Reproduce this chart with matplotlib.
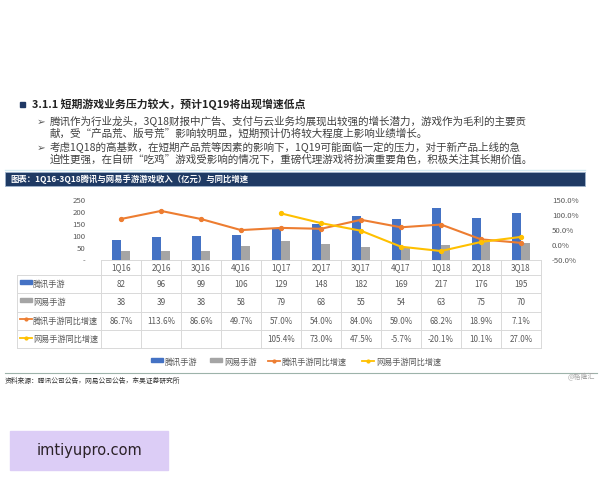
import matplotlib
matplotlib.use("Agg")
import matplotlib.pyplot as plt
from matplotlib.patches import Rectangle

plt.rcParams['font.family'] = ['Noto Sans CJK SC', 'DejaVu Sans']

quarters = ["1Q16", "2Q16", "3Q16", "4Q16", "1Q17", "2Q17", "3Q17", "4Q17", "1Q18", "2Q18", "3Q18"]
tencent = [82, 96, 99, 106, 129, 148, 182, 169, 217, 176, 195]
netease = [38, 39, 38, 58, 79, 68, 55, 54, 63, 75, 70]
tencent_yoy = [86.7, 113.6, 86.6, 49.7, 57.0, 54.0, 84.0, 59.0, 68.2, 18.9, 7.1]
netease_yoy = [None, None, None, None, 105.4, 73.0, 47.5, -5.7, -20.1, 10.1, 27.0]

series_names = ["腾讯手游", "网易手游", "腾讯手游同比增速", "网易手游同比增速"]
left_ticks = [0, 50, 100, 150, 200, 250]
right_ticks = [-50, 0, 50, 100, 150]

heading = "3.1.1 短期游戏业务压力较大，预计1Q19将出现增速低点"
bullets = [
    ["腾讯作为行业龙头，3Q18财报中广告、支付与云业务均展现出较强的增长潜力，游戏作为毛利的主要贡",
     "献，受“产品荒、版号荒”影响较明显，短期预计仍将较大程度上影响业绩增长。"],
    ["考虑1Q18的高基数，在短期产品荒等因素的影响下，1Q19可能面临一定的压力，对于新产品上线的急",
     "迫性更强，在自研“吃鸡”游戏受影响的情况下，重磅代理游戏将扮演重要角色，积极关注其长期价值。"],
]
chart_title = "图表：1Q16-3Q18腾讯与网易手游游戏收入（亿元）与同比增速"
source = "资料来源：腾讯公司公告，网易公司公告，东吴证券研究所"

BLUE = "#4472C4"
GRAY = "#A5A5A5"
ORANGE = "#ED7D31"
YELLOW = "#FFC000"
GRID = "#D9D9D9"
TXT = "#595959"

W, H = 600, 480
fig = plt.figure(figsize=(6, 4.8), dpi=100)

# page layer in pixel coordinates
page = fig.add_axes([0, 0, 1, 1])
page.set_xlim(0, W)
page.set_ylim(H, 0)
page.axis("off")

# heading + bullets
page.add_patch(Rectangle((20, 102), 5, 5, color="#1F3864"))
page.text(32, 104.5, heading, fontsize=7.8, fontweight="bold", color="#222222", va="center")
line_y = [[122, 134], [148, 160]]
for para, ys in zip(bullets, line_y):
    page.text(37, ys[0], "➢", fontsize=7.5, color="#595959", va="center", family="DejaVu Sans")
    for txt, y in zip(para, ys):
        page.text(50, y, txt, fontsize=7.6, color="#404040", va="center")

page.plot([5, 585], [170, 170], color="#D5EBF3", lw=1)

# chart title bar
page.add_patch(Rectangle((5, 172), 580, 14, facecolor="#1F3A64", edgecolor="#9FB3CC", lw=0.6))
page.text(10, 179.5, chart_title, fontsize=6.0, color="white", fontweight="bold", va="center")

# table
x0, colw = 101, 40
n = len(quarters)
x1 = x0 + colw * n
row_edges = [260, 275, 293.3, 311.6, 330, 348.3]
page.plot([x0, x1], [260, 260], color=GRID, lw=0.7)
for y in row_edges[1:]:
    page.plot([17, x1], [y, y], color=GRID, lw=0.7)
for i in range(n + 1):
    page.plot([x0 + colw * i] * 2, [260, row_edges[-1]], color=GRID, lw=0.7)
page.plot([17, 17], [275, row_edges[-1]], color=GRID, lw=0.7)

def fmt_pct(v):
    return "" if v is None else f"{v:.1f}%"

rows = [[str(v) for v in tencent], [str(v) for v in netease],
        [fmt_pct(v) for v in tencent_yoy], [fmt_pct(v) for v in netease_yoy]]

for i, q in enumerate(quarters):
    page.text(x0 + colw * i + colw / 2, 268, q, fontsize=5.8, color=TXT, ha="center", va="center")

def draw_key(kind, color, x, y):
    if kind == "bar":
        page.add_patch(Rectangle((x, y - 4), 12, 4, color=color))
    else:
        page.plot([x, x + 12], [y - 1.5, y - 1.5], color=color, lw=1.3)
        page.plot([x + 6], [y - 1.5], "o", color=color, ms=2)

kinds = ["bar", "bar", "line", "line"]
colors = [BLUE, GRAY, ORANGE, YELLOW]
for r, (vals, name, kind, c) in enumerate(zip(rows, series_names, kinds, colors)):
    yc = (row_edges[r + 1] + row_edges[r + 2]) / 2
    draw_key(kind, c, 20, yc)
    page.text(33, yc + 0.5, name, fontsize=5.9, color=TXT, va="center")
    for i, v in enumerate(vals):
        page.text(x0 + colw * i + colw / 2, yc + 0.5, v, fontsize=5.8, color=TXT,
                  ha="center", va="center")

# bottom legend
leg_x = [151, 210, 268, 362]
for name, kind, c, lx in zip(series_names, kinds, colors, leg_x):
    draw_key(kind, c, lx, 362)
    page.text(lx + 14, 362, name, fontsize=5.9, color=TXT, va="center")

# footer
page.plot([5, 597], [373, 373], color="#9DB3AA", lw=0.8)
page.text(5, 381, source, fontsize=4.9, color="#333333", va="center")
page.text(595, 377.5, "@格隆汇", fontsize=5, color="#A6A6A6", ha="right", va="center")

# watermark box
page.add_patch(Rectangle((10, 431), 158, 39, color="#DCCDF6"))
page.text(89, 451, "imtiyupro.com", fontsize=10.5, color="#2B2228", ha="center", va="center",
          family="DejaVu Sans")

# chart
ax = fig.add_axes([x0 / W, (H - 260) / H, (x1 - x0) / W, 60 / H])
ax.patch.set_alpha(0)
xs = list(range(n))
bw = 0.23
ax.bar([x - 0.115 for x in xs], tencent, width=bw, color=BLUE)
ax.bar([x + 0.115 for x in xs], netease, width=bw, color=GRAY)
ax.set_xlim(-0.5, n - 0.5)
ax.set_ylim(0, 250)
ax.set_xticks([])
ax.set_yticks(left_ticks)
ax.set_yticklabels(["-" if t == 0 else str(t) for t in left_ticks])
ax.tick_params(axis="y", length=0, pad=11, labelsize=5.6, labelcolor=TXT)
for s in ax.spines.values():
    s.set_visible(False)

ax2 = ax.twinx()
ax2.plot(xs, tencent_yoy, color=ORANGE, lw=1.5, marker="o", ms=2.8)
ny = [(x, v) for x, v in zip(xs, netease_yoy) if v is not None]
ax2.plot([p[0] for p in ny], [p[1] for p in ny], color=YELLOW, lw=1.5, marker="o", ms=2.8)
ax2.set_ylim(-50, 150)
ax2.set_yticks(right_ticks)
ax2.set_yticklabels([f"{t:.1f}%" for t in right_ticks])
ax2.tick_params(axis="y", length=0, pad=8, labelsize=5.6, labelcolor=TXT)
for s in ax2.spines.values():
    s.set_visible(False)

fig.savefig("out.png", dpi=100, facecolor="white")
